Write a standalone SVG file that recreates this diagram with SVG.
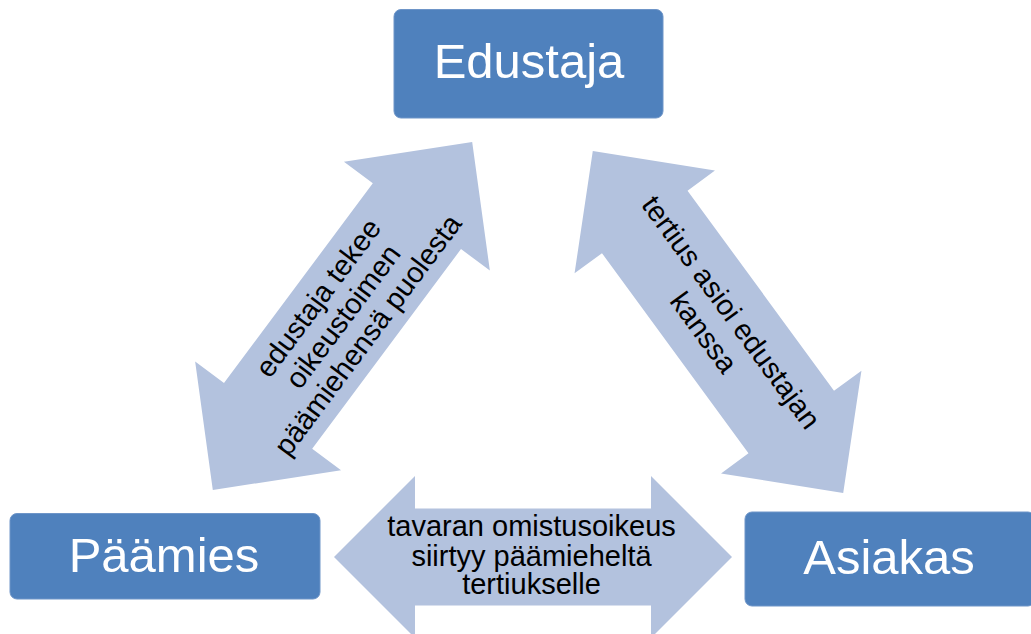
<svg xmlns="http://www.w3.org/2000/svg" width="1031" height="634" viewBox="0 0 1031 634">
<style>
.node{fill:#4F81BD;stroke:#6E95C8;stroke-width:1}
.ntext{fill:#FFFFFF;font-family:"Liberation Sans",Arial,sans-serif;font-size:49px;text-anchor:middle}
.arrow{fill:#B3C2DE;stroke:none}
.atext{fill:#000000;font-family:"Liberation Sans",Arial,sans-serif;font-size:29px;text-anchor:middle}
</style>
<rect width="1031" height="634" fill="#FFFFFF"/>
<g id="connectors">
  <g id="arrow-paamies-edustaja" transform="translate(342.5,316) rotate(-53.3)">
    <polygon class="arrow" points="-217,0 -124.5,-91 -124.5,-55 124.5,-55 124.5,-91 217,0 124.5,91 124.5,55 -124.5,55 -124.5,91"/>
    <text class="atext" x="0" y="-20.5">edustaja tekee</text>
    <text class="atext" x="0" y="10.5">oikeustoimen</text>
    <text class="atext" x="0" y="41.5">päämiehensä puolesta</text>
  </g>
  <g id="arrow-edustaja-asiakas" transform="translate(718,322) rotate(53.8)">
    <polygon class="arrow" points="-212,0 -124,-87 -124,-53 124,-53 124,-87 212,0 124,87 124,53 -124,53 -124,87"/>
    <text class="atext" x="0" y="-6.5">tertius asioi edustajan</text>
    <text class="atext" x="0" y="27.5">kanssa</text>
  </g>
  <g id="arrow-paamies-asiakas" transform="translate(533,557)">
    <polygon class="arrow" points="-199,0 -118,-81 -118,-48.5 118,-48.5 118,-81 199,0 118,81 118,48.5 -118,48.5 -118,81"/>
    <text class="atext" x="-1.5" y="-21">tavaran omistusoikeus</text>
    <text class="atext" x="-1.5" y="8.5">siirtyy päämieheltä</text>
    <text class="atext" x="-1.5" y="37">tertiukselle</text>
  </g>
</g>
<g id="node-edustaja">
  <rect class="node" x="394" y="9.5" width="269" height="108.5" rx="7"/>
  <text class="ntext" x="529" y="78">Edustaja</text>
</g>
<g id="node-paamies">
  <rect class="node" x="10" y="513.5" width="310" height="85.5" rx="7"/>
  <text class="ntext" x="164" y="572">Päämies</text>
</g>
<g id="node-asiakas">
  <rect class="node" x="745" y="512" width="290" height="94" rx="7"/>
  <text class="ntext" x="889" y="574">Asiakas</text>
</g>
</svg>
